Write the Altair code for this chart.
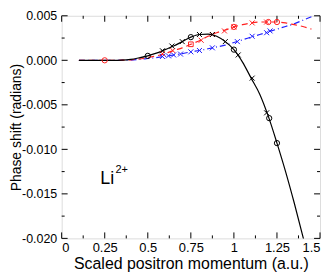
import altair as alt
import pandas as pd

# ---- data ----
curve_x = [0.10, 0.20, 0.30, 0.35, 0.40, 0.45, 0.50, 0.55, 0.60, 0.65, 0.70, 0.75,
           0.80, 0.85, 0.90, 0.95, 1.00, 1.05, 1.10, 1.15, 1.20, 1.25, 1.30, 1.35, 1.41]
black_y = [0.0, 0.0, 0.0, 0.00002, 0.0001, 0.00028, 0.0005, 0.0008, 0.0012, 0.0016,
           0.0021, 0.0026, 0.0029, 0.00295, 0.0027, 0.0021, 0.0012, -0.0002, -0.002,
           -0.0038, -0.0063, -0.0093, -0.0125, -0.016, -0.0205]

red_x = [0.10, 0.20, 0.30, 0.35, 0.40, 0.45, 0.50, 0.55, 0.60, 0.65, 0.70, 0.75, 0.80,
         0.85, 0.90, 0.95, 1.00, 1.05, 1.10, 1.15, 1.20, 1.25, 1.30, 1.35, 1.40, 1.45]
red_y = [0.0, 0.0, 0.0, 0.00001, 0.00005, 0.00015, 0.0003, 0.0005, 0.00075, 0.0011,
         0.0014, 0.0018, 0.0022, 0.0027, 0.0031, 0.0034, 0.00375, 0.004, 0.0042, 0.0043,
         0.0043, 0.0043, 0.0042, 0.004, 0.0038, 0.0035]

blue_x = [0.10, 0.20, 0.30, 0.40, 0.45, 0.50, 0.55, 0.60, 0.65, 0.70, 0.75, 0.80, 0.85,
          0.90, 0.95, 1.00, 1.05, 1.10, 1.15, 1.20, 1.25, 1.30, 1.35, 1.40, 1.45]
blue_y = [0.0, 0.0, 0.0, 0.00003, 0.0001, 0.0002, 0.0003, 0.00043, 0.0006, 0.00075,
          0.00095, 0.0011, 0.0013, 0.0015, 0.0017, 0.002, 0.0023, 0.0026, 0.0029, 0.0032,
          0.0035, 0.0038, 0.0041, 0.0045, 0.0049]

black_circ_x = [0.5, 0.75, 1.0, 1.205, 1.25]
black_circ_y = [0.0005, 0.0026, 0.0012, -0.0065, -0.0093]
black_cross_x = [0.585, 0.64, 0.70, 0.80, 0.875, 0.95, 1.025, 1.106, 1.19]
black_cross_y = [0.00107, 0.0016, 0.0021, 0.0029, 0.0029, 0.0021, 0.0006, -0.002, -0.0059]

red_circ_x = [0.25, 1.0, 1.2, 1.25]
red_circ_y = [0.0, 0.00375, 0.0043, 0.0043]
red_cross_x = [0.585, 0.645, 0.81, 0.875, 0.945, 1.0, 1.106, 1.19]
red_cross_y = [0.00075, 0.0011, 0.00225, 0.0029, 0.0033, 0.00375, 0.0042, 0.0043]
red_sq_x = [0.75]
red_sq_y = [0.0018]

blue_cross_x = [0.585, 0.62, 0.65, 0.69, 0.75, 0.80, 0.875, 1.02, 1.106, 1.19, 1.21]
blue_cross_y = [0.00043, 0.0005, 0.0006, 0.0007, 0.00095, 0.0011, 0.0014, 0.0021,
                0.0027, 0.0031, 0.0033]

x_major = [0, 0.25, 0.5, 0.75, 1.0, 1.25, 1.5]
x_minor = [0.125, 0.375, 0.625, 0.875, 1.125, 1.375]
y_major = [-0.02, -0.015, -0.01, -0.005, 0.0, 0.005]
y_minor = [-0.0175, -0.0125, -0.0075, -0.0025, 0.0025]

W, H = 260, 224
FONT = "Liberation Sans"
XSYM = "M-1,-1L1,1M-1,1L1,-1"

xs = alt.Scale(domain=[0, 1.5], nice=False, zero=False)
ys = alt.Scale(domain=[-0.02, 0.005], nice=False, zero=False)


def line(xv, yv, color, dash):
    df = pd.DataFrame({"x": xv, "y": yv})
    m = alt.Chart(df).mark_line(color=color, strokeWidth=1.2, interpolate="monotone",
                                clip=True, **({"strokeDash": dash} if dash else {}))
    return m.encode(x=alt.X("x:Q", scale=xs), y=alt.Y("y:Q", scale=ys))


def pts(xv, yv, color, shape, size):
    df = pd.DataFrame({"x": xv, "y": yv})
    return alt.Chart(df).mark_point(shape=shape, size=size, color=color, filled=False,
                                    strokeWidth=1, opacity=1).encode(
        x=alt.X("x:Q", scale=xs), y=alt.Y("y:Q", scale=ys))


base_df = pd.DataFrame({"x": curve_x, "y": black_y})
base = alt.Chart(base_df).mark_line(color="black", strokeWidth=1.2,
                                    interpolate="monotone", clip=True).encode(
    x=alt.X("x:Q", scale=xs,
            axis=alt.Axis(values=x_major, ticks=False, domain=False, grid=False,
                          labelExpr="'' + datum.value", labelFont=FONT, labelFontSize=13,
                          labelColor="black", labelPadding=3,
                          title="Scaled positron momentum (a.u.)", titleFont=FONT,
                          titleFontSize=16, titleFontWeight="normal", titleColor="black",
                          titlePadding=1)),
    y=alt.Y("y:Q", scale=ys,
            axis=alt.Axis(values=y_major, ticks=False, domain=False, grid=False,
                          labelExpr="replace(format(datum.value, '.3f'), '\u2212', '-')",
                          labelFont=FONT, labelFontSize=12.5, labelColor="black",
                          labelPadding=5,
                          title="Phase shift (radians)", titleFont=FONT,
                          titleFontSize=14, titleFontWeight="normal", titleColor="black",
                          titleX=-38, titleY=H / 2)),
)


def xticks(vals, length):
    df = pd.DataFrame({"v": vals})
    top = alt.Chart(df).mark_rule(color="black", strokeWidth=1).encode(
        x=alt.X("v:Q", scale=xs), y=alt.value(0), y2=alt.value(length))
    bot = alt.Chart(df).mark_rule(color="black", strokeWidth=1).encode(
        x=alt.X("v:Q", scale=xs), y=alt.value(H), y2=alt.value(H - length))
    return [top, bot]


def yticks(vals, length):
    df = pd.DataFrame({"v": vals})
    left = alt.Chart(df).mark_rule(color="black", strokeWidth=1).encode(
        y=alt.Y("v:Q", scale=ys), x=alt.value(0), x2=alt.value(length))
    right = alt.Chart(df).mark_rule(color="black", strokeWidth=1).encode(
        y=alt.Y("v:Q", scale=ys), x=alt.value(W), x2=alt.value(W - length))
    return [left, right]


label_df = pd.DataFrame({"x": [0.265], "y": [-0.0133], "t": ["Li"]})
sup_df = pd.DataFrame({"x": [0.348], "y": [-0.0123], "t": ["2+"]})
li = alt.Chart(label_df).mark_text(font=FONT, fontSize=18, color="black").encode(
    x=alt.X("x:Q", scale=xs), y=alt.Y("y:Q", scale=ys), text="t:N")
sup = alt.Chart(sup_df).mark_text(font=FONT, fontSize=11, color="black").encode(
    x=alt.X("x:Q", scale=xs), y=alt.Y("y:Q", scale=ys), text="t:N")

layers = (xticks(x_major, 6) + xticks(x_minor, 3) + yticks(y_major, 6) + yticks(y_minor, 3)
          + [
              line(blue_x, blue_y, "#2020ff", [6, 3, 1, 3]),
              line(red_x, red_y, "#ff2020", [6, 4]),
              base,
              pts(blue_cross_x, blue_cross_y, "#2020ff", XSYM, 25),
              pts(red_cross_x, red_cross_y, "#ff2020", XSYM, 25),
              pts(red_circ_x, red_circ_y, "#ff2020", "circle", 28),
              pts(red_sq_x, red_sq_y, "#ff2020", "square", 22),
              pts(black_cross_x, black_cross_y, "black", XSYM, 25),
              pts(black_circ_x, black_circ_y, "black", "circle", 28),
              li, sup,
          ])

chart = alt.layer(*layers).properties(
    width=W, height=H,
    autosize=alt.AutoSizeParams(type="none"),
    padding={"left": 54, "top": 7, "right": 4, "bottom": 34},
).configure_view(stroke="black", strokeWidth=1).configure(background="white")

chart.save("out.html", embed_options={"renderer": "svg", "actions": False})
